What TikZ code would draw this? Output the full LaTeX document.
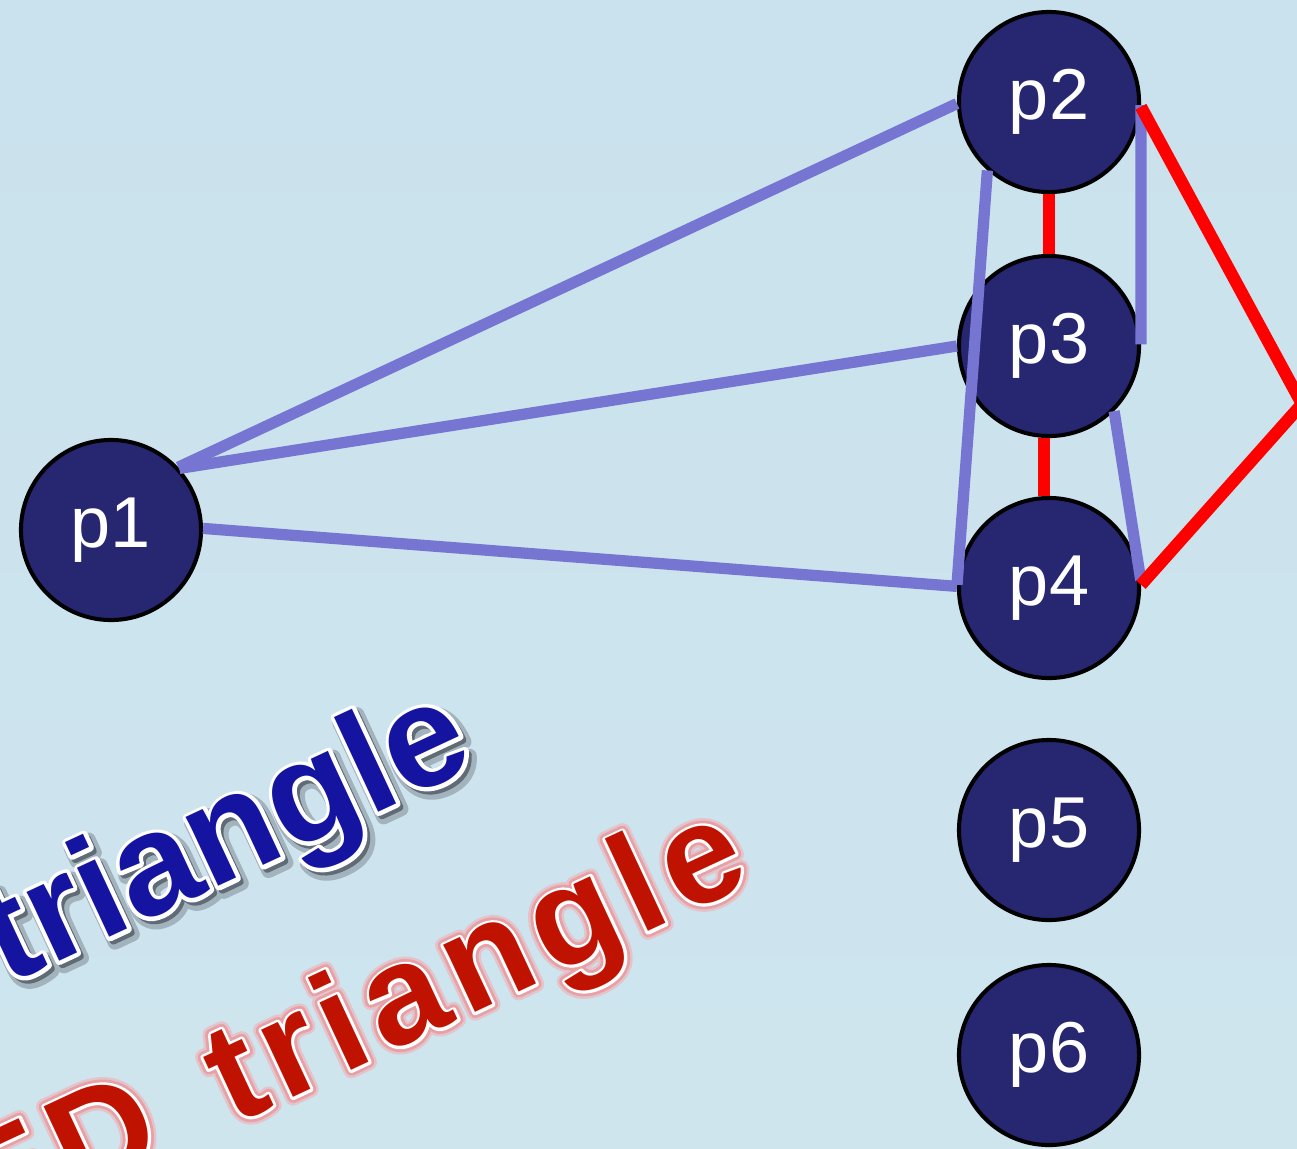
\documentclass[tikz,border=0pt]{standalone}
\usepackage{fontspec}
\setmainfont{Liberation Sans}
\newfontfamily\trackedsans[LetterSpace=6.8]{Liberation Sans}

% stroke the glyph outlines in the current colour (text render mode 2)
\newcommand\strokedtext[2]{\special{pdf:literal direct 2 Tr #1 w 1 j 1 J}#2\special{pdf:literal direct 0 Tr}}
% a word drawn as layered copies: shadow/glow, white rim, then the fill
\newcommand\bluecaption[1]{%
  \rlap{\kern0.6pt\raisebox{-1.9pt}{\color{shadowsoft}\strokedtext{4}{#1}}}%
  \rlap{\kern0.4pt\raisebox{-1.3pt}{\color{shadowdark}\strokedtext{2}{#1}}}%
  \rlap{\color{white}\strokedtext{2.2}{#1}}%
  #1}
\newcommand\redcaption[1]{%
  \rlap{\color{glowsoft}\strokedtext{4.6}{#1}}%
  \rlap{\color{glowmid}\strokedtext{3.2}{#1}}%
  \rlap{\color{white}\strokedtext{1.6}{#1}}%
  #1}

\definecolor{bgtop}{HTML}{CAE2ED}
\definecolor{bgbot}{HTML}{CEE5EE}
\definecolor{nodefill}{HTML}{262671}
\definecolor{edgeblue}{HTML}{7676D2}
\definecolor{edgered}{HTML}{FF0000}
\definecolor{wordblue}{HTML}{1414A0}
\definecolor{wordred}{HTML}{C01200}
\definecolor{shadowsoft}{HTML}{A3B3BD}
\definecolor{shadowdark}{HTML}{5F6C76}
\definecolor{glowsoft}{HTML}{E4C4CA}
\definecolor{glowmid}{HTML}{E6A0A6}

\tikzset{
  proc/.style={circle, draw=black, line width=1.15pt, fill=nodefill,
    minimum size=1.8cm, inner sep=0pt, text=white,
    font=\fontsize{20.5}{24}\selectfont},
  blueedge/.style={draw=edgeblue, line width=3.2pt},
  rededge/.style={draw=edgered, line width=3.5pt},
  bluewords/.style={rotate=25, anchor=base west, inner sep=0pt, text=wordblue,
    font=\fontsize{41}{41}\selectfont\bfseries},
  redwords/.style={rotate=25, anchor=base east, inner sep=0pt, text=wordred,
    font=\trackedsans\fontsize{40}{40}\selectfont\bfseries},
}

\begin{document}
\begin{tikzpicture}[x=0.01cm, y=-0.01cm]
  \useasboundingbox (0,0) rectangle (1297,1148);
  \clip (0,0) rectangle (1297,1148);
  \shade[top color=bgtop, bottom color=bgbot] (0,0) rectangle (1297,1148);

  % captions
  \node[bluewords] (bluetxt) at (6,986) {\bluecaption{triangle}};
  \node[redwords] (redtxt) at (755,882) {\redcaption{ED\hspace{0.16em} triangle}};

  % processes
  \node[proc] (p1) at (111,530) {p1};
  \node[proc] (p2) at (1049,102) {p2};
  \node[proc] (p3) at (1049,346) {p3};
  \node[proc] (p4) at (1049,588) {p4};
  \node[proc] (p5) at (1049,830) {p5};
  \node[proc] (p6) at (1049,1055) {p6};
  \coordinate (apex) at (1302,404);

  % blue links
  \draw[blueedge] (p1.43) -- (p2.181);
  \draw[blueedge] (p1.42) -- (p3.180);
  \draw[blueedge] (p1.1) -- (p4.179);
  \draw[blueedge] (p2.228) -- (p4.178);
  \draw[blueedge] (p2.358) -- (p3.1);
  \draw[blueedge] (p3.-45) -- (p4.5);

  % red links
  \draw[rededge] (p2.south) -- (p3.north);
  \draw[rededge] (p3.267) -- (p4.93);
  \draw[rededge] (p2.-3) -- (apex) -- (p4.2);
\end{tikzpicture}
\end{document}
